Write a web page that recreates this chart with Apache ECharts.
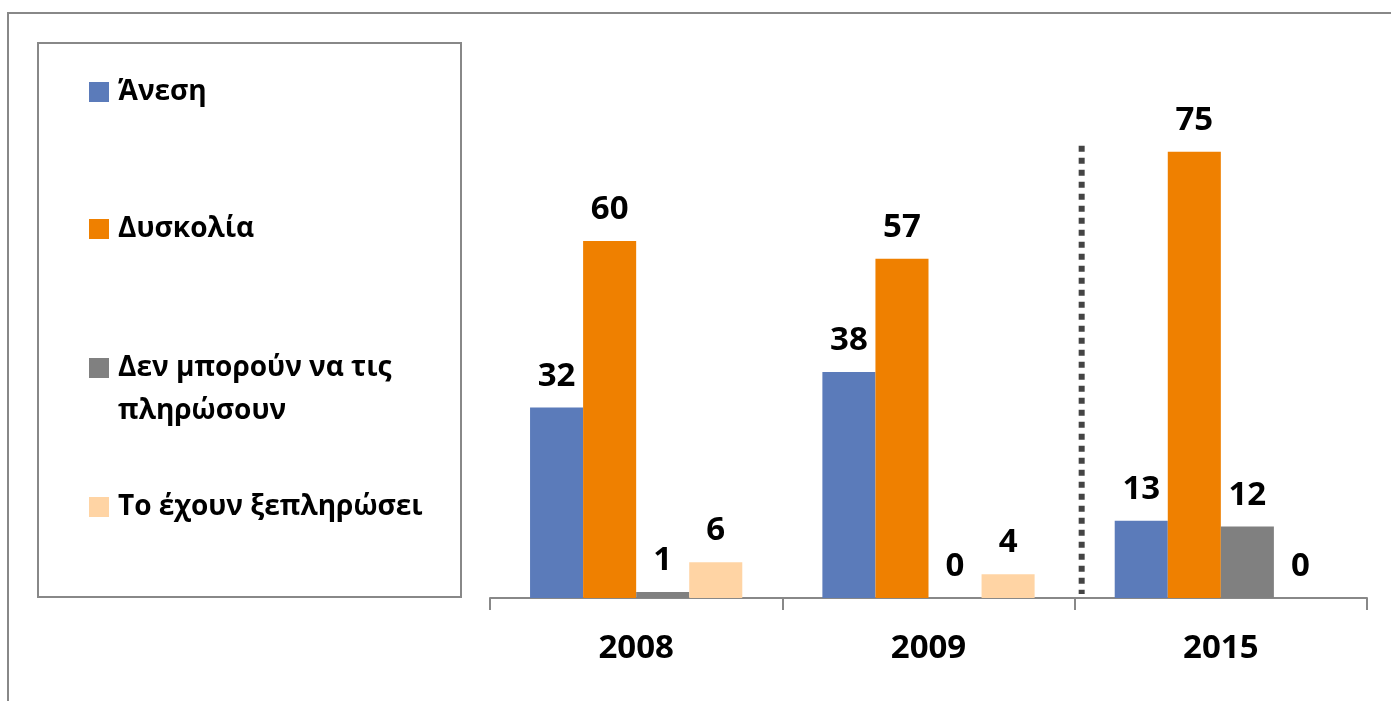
<!DOCTYPE html>
<html>
<head>
<meta charset="utf-8">
<script src="https://cdn.jsdelivr.net/npm/echarts@6/dist/echarts.min.js"></script>
<style>html,body{margin:0;padding:0;background:#fff;}#c{width:1391px;height:701px;}</style>
</head>
<body>
<div id="c"></div>
<script>
const categories = ['2008', '2009', '2015'];
const seriesNames = ['Άνεση', 'Δυσκολία', 'Δεν μπορούν να τις πληρώσουν', 'Το έχουν ξεπληρώσει'];
const easeValues = [32, 38, 13];
const difficultyValues = [60, 57, 75];
const cannotPayValues = [1, 0, 12];
const paidOffValues = [6, 4, 0];
const colors = ['#5B7BBA', '#EF8000', '#808080', '#FFD4A4'];

const FONT = '"Open Sans", "Noto Sans", sans-serif';
const chart = echarts.init(document.getElementById('c'), null, {renderer: 'canvas'});
const valuesList = [easeValues, difficultyValues, cannotPayValues, paidOffValues];

const series = seriesNames.map((n, i) => ({
  name: n,
  type: 'bar',
  data: valuesList[i],
  itemStyle: {color: colors[i]},
  barGap: '0%',
  barCategoryGap: '27.4%',
  label: {
    show: true, position: 'top', distance: 15,
    fontFamily: FONT, fontWeight: 'bold', fontSize: 33, color: '#000'
  }
}));

const legendCenters = [92, 229, 368, 507];
const txt = {fontFamily: FONT, fontWeight: 'bold', fontSize: 28, color: '#000', lineHeight: 43};
const legends = seriesNames.map((n, i) => {
  const multi = i === 2;
  return {
    data: [n],
    left: 89,
    top: multi ? legendCenters[i] - 64.5 : legendCenters[i] - 15,
    padding: 0,
    itemWidth: 20, itemHeight: 20, itemGap: 0,
    icon: 'rect',
    selectedMode: false,
    formatter: multi ? '{e| }\n{a|Δεν μπορούν να τις}\n{a|πληρώσουν}' : '{name}',
    textStyle: Object.assign({}, txt, {
      lineHeight: multi ? 43 : 30,
      padding: [0, 0, 0, 4],
      rich: {
        e: {fontSize: 10, lineHeight: 43, height: 43},
        a: Object.assign({}, txt)
      }
    })
  };
});

const option = {
  animation: false,
  backgroundColor: '#fff',
  color: colors,
  legend: legends,
  grid: {left: 490, right: 24, top: 122, bottom: 103},
  xAxis: {
    type: 'category',
    data: categories,
    axisLine: {lineStyle: {color: '#888', width: 2}},
    axisTick: {show: true, length: 12, lineStyle: {color: '#888', width: 2}},
    axisLabel: {margin: 34, fontFamily: FONT, fontWeight: 'bold', fontSize: 33, color: '#000'}
  },
  yAxis: {
    type: 'value', min: 0, max: 80, show: false,
    splitLine: {show: false}
  },
  series: series,
  graphic: [
    {type: 'polyline', shape: {points: [[8, 701], [8, 13], [1391, 13]]}, style: {stroke: '#888', lineWidth: 2, fill: null}, silent: true},
    {type: 'rect', shape: {x: 38, y: 43, width: 423, height: 554}, style: {stroke: '#888', lineWidth: 2, fill: null}, silent: true, z: -1}
  ]
};
chart.setOption(option);

// dotted separator between 2009 and 2015
const p1 = chart.convertToPixel({xAxisIndex: 0}, '2009');
const p2 = chart.convertToPixel({xAxisIndex: 0}, '2015');
const sepX = (p1 + p2) / 2 + 7;
const yTop = chart.convertToPixel({yAxisIndex: 0}, 76);
const yBot = chart.convertToPixel({yAxisIndex: 0}, 0) - 4;
option.graphic.push({
  type: 'line', shape: {x1: sepX, y1: yTop, x2: sepX, y2: yBot},
  style: {stroke: '#444', lineWidth: 6, lineDash: [6, 6]}, silent: true
});
chart.setOption({graphic: option.graphic});
</script>
</body>
</html>
